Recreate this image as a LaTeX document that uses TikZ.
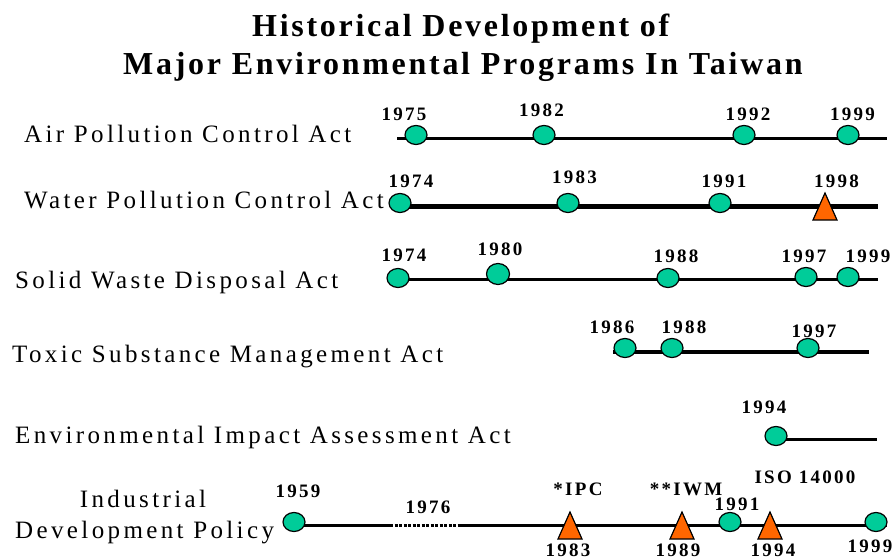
\documentclass[tikz,border=0pt]{standalone}
\usepackage{fontspec}
\setmainfont{Liberation Serif}
\newfontfamily\actfont[LetterSpace=13.5]{Liberation Serif}
\newfontfamily\yearfont[LetterSpace=12]{Liberation Serif}
\newfontfamily\headfont[LetterSpace=8.5]{Liberation Serif}
\usetikzlibrary{shapes.geometric}
\definecolor{eventgreen}{RGB}{0,204,153}
\definecolor{milestoneorange}{RGB}{255,102,0}

\begin{document}
\begin{tikzpicture}[x=1pt,y=-1pt,
  head/.style={anchor=base west, inner sep=0pt, font=\headfont\bfseries\fontsize{32}{38}\selectfont},
  act/.style={anchor=base west, inner sep=0pt, font=\actfont\fontsize{25}{30}\selectfont},
  yr/.style={anchor=base, inner sep=0pt, font=\yearfont\bfseries\fontsize{19}{22}\selectfont},
  track/.style={line width=3pt},
  event/.style={ellipse, draw=black, line width=1.2pt, fill=eventgreen,
    minimum width=22pt, minimum height=19pt, inner sep=0pt},
  tri/.pic={\draw[line width=1.2pt, line join=miter, fill=milestoneorange]
    (-12,13.5) -- (0,-13.5) -- (12,13.5) -- cycle;}
]
\useasboundingbox (0,0) rectangle (892,559);

% title
\node[head] (title1) at (252,37) {Historical Development of};
\node[head] (title2) at (123,75) {Major Environmental Programs In Taiwan};

% programme names
\node[act] (airname)   at (24,143) {Air Pollution Control Act};
\node[act] (watername) at (24,208) {Water Pollution Control Act};
\node[act] (wastename) at (15,288) {Solid Waste Disposal Act};
\node[act] (toxicname) at (12,362) {Toxic Substance Management Act};
\node[act] (eianame)   at (15,443) {Environmental Impact Assessment Act};
\node[act, anchor=base] (indname1) at (143,507) {Industrial};
\node[act] (indname2)  at (15,538) {Development Policy};

% ---- Air Pollution Control Act
\coordinate (airA) at (397,139);
\coordinate (airB) at (887,139);
\draw[track] (airA) -- (airB);
\node[event] (air75) at (416,135) {};
\node[event] (air82) at (544,135) {};
\node[event] (air92) at (744,135) {};
\node[event] (air99) at (848,135) {};
\node[yr] (airy75) at (404,121) {1975};
\node[yr] (airy82) at (541.5,117) {1982};
\node[yr] (airy92) at (748,121) {1992};
\node[yr] (airy99) at (852.5,121) {1999};

% ---- Water Pollution Control Act
\coordinate (watA) at (400,206);
\coordinate (watB) at (878,206);
\draw[track, line width=5pt] (watA) -- (watB);
\node[event] (wat74) at (400,203) {};
\node[event] (wat83) at (568,203) {};
\node[event] (wat91) at (720,203) {};
\pic (wat98) at (825,206.5) {tri};
\node[yr] (waty74) at (411,187) {1974};
\node[yr] (waty83) at (574.5,183) {1983};
\node[yr] (waty91) at (724,187) {1991};
\node[yr] (waty98) at (836.5,187) {1998};

% ---- Solid Waste Disposal Act
\coordinate (swA) at (387,279);
\coordinate (swB) at (878,279);
\draw[track] (swA) -- (swB);
\node[event] (sw74) at (398,278) {};
\node[event, minimum width=23pt, minimum height=21pt] (sw80) at (498,274) {};
\node[event] (sw88) at (668,278) {};
\node[event] (sw97) at (806,277) {};
\node[event] (sw99) at (848,277) {};
\node[yr] (swy74) at (404,261) {1974};
\node[yr] (swy80) at (500,255) {1980};
\node[yr] (swy88) at (676,262) {1988};
\node[yr] (swy97) at (804,262) {1997};
\node[yr] (swy99) at (868,262) {1999};

% ---- Toxic Substance Management Act
\coordinate (txA) at (613,352);
\coordinate (txB) at (869,352);
\draw[track, line width=4.3pt] (txA) -- (txB);
\node[event] (tx86) at (625,348) {};
\node[event] (tx88) at (672,348) {};
\node[event] (tx97) at (808,348) {};
\node[yr] (txy86) at (612,333) {1986};
\node[yr] (txy88) at (684,333) {1988};
\node[yr] (txy97) at (814,337) {1997};

% ---- Environmental Impact Assessment Act
\coordinate (eiaA) at (776,439);
\coordinate (eiaB) at (877,439);
\draw[track] (eiaA) -- (eiaB);
\node[event] (eia94) at (776,436) {};
\node[yr] (eiay94) at (764,413) {1994};

% ---- Industrial Development Policy
\coordinate (indA) at (294,525);
\coordinate (indGapA) at (390,525);
\coordinate (indGapB) at (460,525);
\coordinate (indB) at (887,525);
\draw[track] (indA) -- (indGapA);
\draw[track, dash pattern=on 3pt off 1.5pt] (indGapA) -- (indGapB);
\draw[track] (indGapB) -- (indB);
\node[event] (ind59) at (294,522) {};
\pic (ind83) at (570,525.5) {tri};
\pic (ind89) at (682,525.5) {tri};
\node[event] (ind91) at (730,522) {};
\pic (ind94) at (770,525.5) {tri};
\node[event] (ind99) at (876,522) {};
\node[yr] (indy59) at (298,497) {1959};
\node[yr] (indy76) at (428,513) {1976};
\node[yr] (indipc) at (578,495) {*IPC};
\node[yr] (indiwm) at (686,495) {**IWM};
\node[yr] (indiso) at (805,483) {ISO 14000};
\node[yr] (indy91) at (737,510) {1991};
\node[yr] (indy83) at (568,556) {1983};
\node[yr] (indy89) at (678,556) {1989};
\node[yr] (indy94) at (773,556) {1994};
\node[yr] (indy99) at (870,552) {1999};
\end{tikzpicture}
\end{document}
